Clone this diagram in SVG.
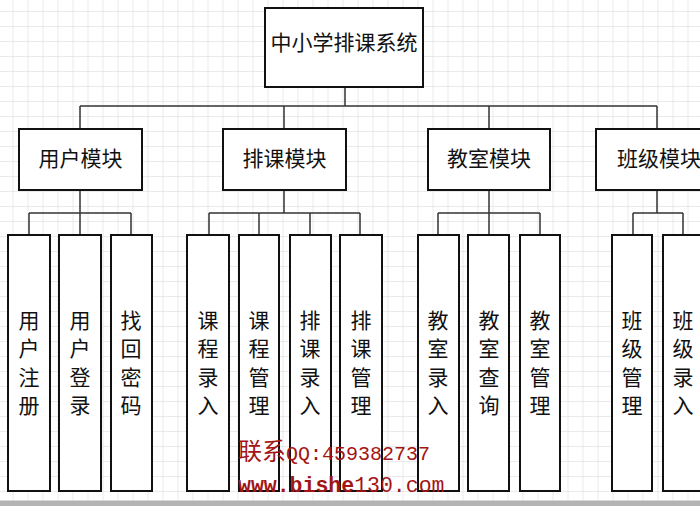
<svg xmlns="http://www.w3.org/2000/svg" width="700" height="506" viewBox="0 0 700 506">
<style>
.box{fill:#fff;stroke:#111;stroke-width:2}
.t{font-family:"Noto Sans CJK SC","Noto Sans CJK JP",sans-serif;font-size:21px;fill:#111;text-anchor:middle}
.c{fill:none;stroke:#333;stroke-width:1.5}
.wm{font-family:"Liberation Mono","Noto Sans CJK SC",monospace;fill:#a31515}
</style>
<defs>
<pattern id="grid" x="12.5" y="11" width="15" height="15" patternUnits="userSpaceOnUse">
<path d="M0 0H15M0 0V15" fill="none" stroke="#d6d6d6" stroke-width="1"/>
</pattern>
</defs>
<rect width="700" height="506" fill="#fff"/>
<rect width="700" height="500" fill="url(#grid)"/>
<rect x="0" y="500" width="700" height="6" fill="#b4b4b4"/>
<rect x="0" y="500" width="700" height="1" fill="#d8d8d8"/>

<g id="connectors">
<path class="c" d="M345 87V106M80 106H657M80 106V129M284 106V129M489 106V129M657 106V129"/>
<path class="c" d="M80 190V213M29 213H131M29 213V235M80 213V235M131 213V235"/>
<path class="c" d="M284 190V213M209 213H360M209 213V235M259 213V235M310 213V235M360 213V235"/>
<path class="c" d="M489 190V213M438 213H540M438 213V235M489 213V235M540 213V235"/>
<path class="c" d="M657 190V213M633 213H683M633 213V235M683 213V235"/>
</g>

<g id="root"><rect class="box" x="265" y="8" width="158" height="79"/><text class="t" x="344" y="50" font-size="22">中小学排课系统</text></g>

<g id="m-user"><rect class="box" x="19" y="129" width="123" height="61"/><text class="t" x="80.5" y="166">用户模块</text></g>
<g id="m-sched"><rect class="box" x="223" y="129" width="123" height="61"/><text class="t" x="284.5" y="166">排课模块</text></g>
<g id="m-room"><rect class="box" x="428" y="129" width="122" height="61"/><text class="t" x="489" y="166">教室模块</text></g>
<g id="m-class"><rect class="box" x="596" y="129" width="123" height="61"/><text class="t" x="659" y="166">班级模块</text></g>

<g id="l1"><rect class="box" x="8" y="235" width="42" height="256"/><text class="t" x="29"><tspan x="29" y="328">用</tspan><tspan x="29" y="356">户</tspan><tspan x="29" y="385">注</tspan><tspan x="29" y="413">册</tspan></text></g>
<g id="l2"><rect class="box" x="59" y="235" width="42" height="256"/><text class="t" x="80"><tspan x="80" y="328">用</tspan><tspan x="80" y="356">户</tspan><tspan x="80" y="385">登</tspan><tspan x="80" y="413">录</tspan></text></g>
<g id="l3"><rect class="box" x="111" y="235" width="41" height="256"/><text class="t" x="131"><tspan x="131" y="328">找</tspan><tspan x="131" y="356">回</tspan><tspan x="131" y="385">密</tspan><tspan x="131" y="413">码</tspan></text></g>
<g id="l4"><rect class="box" x="187" y="235" width="42" height="256"/><text class="t" x="208"><tspan x="208" y="328">课</tspan><tspan x="208" y="356">程</tspan><tspan x="208" y="385">录</tspan><tspan x="208" y="413">入</tspan></text></g>
<g id="l5"><rect class="box" x="239" y="235" width="40" height="256"/><text class="t" x="259"><tspan x="259" y="328">课</tspan><tspan x="259" y="356">程</tspan><tspan x="259" y="385">管</tspan><tspan x="259" y="413">理</tspan></text></g>
<g id="l6"><rect class="box" x="290" y="235" width="41" height="256"/><text class="t" x="310"><tspan x="310" y="328">排</tspan><tspan x="310" y="356">课</tspan><tspan x="310" y="385">录</tspan><tspan x="310" y="413">入</tspan></text></g>
<g id="l7"><rect class="box" x="340" y="235" width="42" height="256"/><text class="t" x="361"><tspan x="361" y="328">排</tspan><tspan x="361" y="356">课</tspan><tspan x="361" y="385">管</tspan><tspan x="361" y="413">理</tspan></text></g>
<g id="l8"><rect class="box" x="418" y="235" width="41" height="256"/><text class="t" x="438"><tspan x="438" y="328">教</tspan><tspan x="438" y="356">室</tspan><tspan x="438" y="385">录</tspan><tspan x="438" y="413">入</tspan></text></g>
<g id="l9"><rect class="box" x="468" y="235" width="41" height="256"/><text class="t" x="489"><tspan x="489" y="328">教</tspan><tspan x="489" y="356">室</tspan><tspan x="489" y="385">查</tspan><tspan x="489" y="413">询</tspan></text></g>
<g id="l10"><rect class="box" x="520" y="235" width="40" height="256"/><text class="t" x="540"><tspan x="540" y="328">教</tspan><tspan x="540" y="356">室</tspan><tspan x="540" y="385">管</tspan><tspan x="540" y="413">理</tspan></text></g>
<g id="l11"><rect class="box" x="612" y="235" width="40" height="256"/><text class="t" x="632"><tspan x="632" y="328">班</tspan><tspan x="632" y="356">级</tspan><tspan x="632" y="385">管</tspan><tspan x="632" y="413">理</tspan></text></g>
<g id="l12"><rect class="box" x="663" y="235" width="42" height="256"/><text class="t" x="683"><tspan x="683" y="328">班</tspan><tspan x="683" y="356">级</tspan><tspan x="683" y="385">录</tspan><tspan x="683" y="413">入</tspan></text></g>

<g id="watermark">
<text class="wm" x="238" y="460" font-size="20"><tspan font-size="24">联系</tspan>QQ:459382737</text>
<text class="wm" x="238" y="492" font-size="21.5"><tspan font-weight="bold">www.bishe</tspan>130.com</text>
</g>
</svg>
